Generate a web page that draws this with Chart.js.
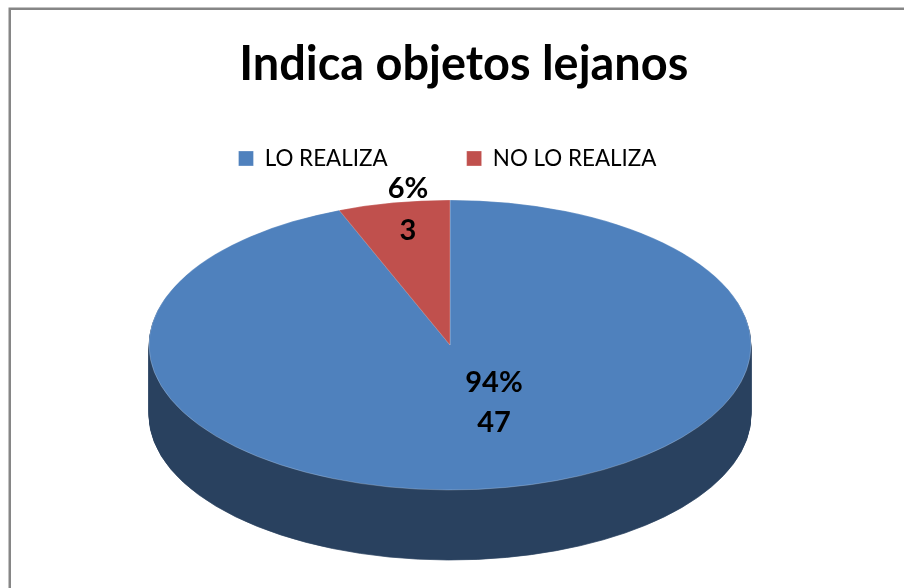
<!DOCTYPE html>
<html><head><meta charset="utf-8">
<style>html,body{margin:0;padding:0;background:#fff}canvas{display:block}</style>
<script src="https://cdn.jsdelivr.net/npm/chart.js@4"></script>
</head><body><canvas id="c" width="904" height="588"></canvas>
<script>
const categories = ["LO REALIZA", "NO LO REALIZA"];
const values = [47, 3];
const percents = ["94%", "6%"];
const topColors = ["#4F81BD", "#C0504D"];
const sideColors = ["#29415F", "#7A2F2D"];
const chartTitle = "Indica objetos lejanos";

const GEO = {cx:450, cy:345, rx:301, ry:145, depth:70};
const LABEL_POS = [
  [[494,383],[494,423]],
  [[408,189],[408,231]]
];
const pie3d = {
  id:'pie3d',
  beforeDraw(chart){
    const c = chart.ctx; c.save();
    c.fillStyle='#868686';
    c.fillRect(8.5,7.5,895.5,2.5);
    c.fillRect(8.5,10,2.5,578);
    c.restore();
  },
  afterLayout(chart){
    chart.titleBlock.left += 32.5;
    chart.titleBlock.top += 1;
    chart.legend.top -= 60;
  },
  beforeDatasetsDraw(chart){
    const c = chart.ctx, meta = chart.getDatasetMeta(0);
    const el0 = meta.data[0], k = GEO.ry/GEO.rx;
    const apply = dy => {
      c.translate(GEO.cx, GEO.cy+dy);
      c.scale(1,k);
      c.translate(-el0.x,-el0.y);
    };
    for(let d=GEO.depth; d>=1; d--){
      c.save(); apply(d);
      meta.data.forEach((el,i)=>{
        const o = el.options;
        el.options = Object.assign(Object.create(o),{backgroundColor:sideColors[i],borderColor:sideColors[i],borderWidth:1});
        el.draw(c, chart.chartArea);
        el.options = o;
      });
      c.restore();
    }
    // even out rounding left by the stacked layers of the rim
    c.save();
    c.globalCompositeOperation='source-atop';
    c.fillStyle=sideColors[0];
    c.fillRect(GEO.cx-GEO.rx-3, GEO.cy, 2*GEO.rx+6, GEO.ry+GEO.depth+3);
    c.restore();
    c.save(); apply(0);
  },
  afterDatasetsDraw(chart){
    const c = chart.ctx;
    c.restore();
    c.save();
    c.fillStyle='#000';
    c.font='bold 29px Lato';
    c.textAlign='center'; c.textBaseline='middle';
    percents.forEach((p,i)=>{
      c.fillText(p, LABEL_POS[i][0][0], LABEL_POS[i][0][1]);
      c.fillText(String(values[i]), LABEL_POS[i][1][0], LABEL_POS[i][1][1]);
    });
    c.restore();
  }
};
new Chart(document.getElementById('c'),{
  type:'pie',
  data:{labels:categories,datasets:[{data:values,backgroundColor:topColors,borderColor:'rgba(255,255,255,0.3)',borderWidth:1,clip:false}]},
  plugins:[pie3d],
  options:{
    responsive:false,animation:false,
    radius:GEO.rx,
    layout:{padding:{left:0,right:9,top:0,bottom:0}},
    events:[],
    plugins:{
      tooltip:{enabled:false},
      title:{display:true,text:chartTitle,color:'#000',font:{family:'Lato',size:46.9,weight:'bold'},padding:{top:36,bottom:36}},
      legend:{position:'top',labels:{boxWidth:15,boxHeight:15,padding:79,color:'#000',font:{family:'Lato',size:22.4}}}
    }
  }
});
</script></body></html>
